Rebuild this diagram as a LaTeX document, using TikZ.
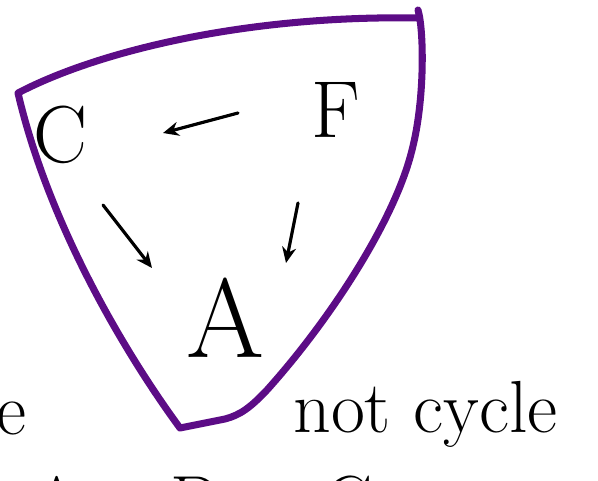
\documentclass[tikz,border=0pt]{standalone}
\usetikzlibrary{arrows.meta,calc}
\definecolor{hpurple}{RGB}{92,12,134}
\begin{document}
\begin{tikzpicture}[x=0.02cm,y=-0.02cm,
  ink/.style={line width=1.8pt,line cap=round,line join=round},
  big/.style={inner sep=0pt,font=\fontsize{46}{50}\selectfont},
  huge/.style={inner sep=0pt,font=\fontsize{64}{70}\selectfont},
  word/.style={inner sep=0pt,font=\fontsize{42}{46}\selectfont},
  tip/.style={-{Stealth[length=9pt,width=8pt]}}]
\useasboundingbox (0,0) rectangle (598,480);
% purple boundary
\draw[hpurple,line width=4pt,line cap=round,line join=round]
  (418,10) .. controls (424,30) and (425,100) .. (412,150)
  .. controls (395,220) and (330,320) .. (267,390)
  .. controls (250,408) and (240,415) .. (225,419)
  -- (180,428)
  .. controls (130,360) and (50,230) .. (18,93)
  .. controls (100,50) and (250,15) .. (418,18);
% nodes
\node[big] (C) at (60,135) {C};
\node[big] (F) at (336,110) {F};
\node[huge] (A) at (225,318) {A};
% F -> C
\draw[ink,tip] ($(F)+(-98,3)$) -- ($(F)+(-173,23)$);
% C -> A
\draw[ink,tip] ($(C)+(43,70)$) -- ($(C)+(92,133)$);
% F -> A
\draw[ink,tip] ($(F)+(-38,93)$) -- ($(F)+(-50,153)$);
% bottom texts
\node[word,anchor=west] (e) at (-4,418) {e};
\node[word,anchor=west] (nc) at (293,414) {not cycle};
\node[word] (bA) at (57,502) {A};
\node[word] (bD) at (197,502) {D};
\node[word] (bC) at (348,502) {C};
\end{tikzpicture}
\end{document}
